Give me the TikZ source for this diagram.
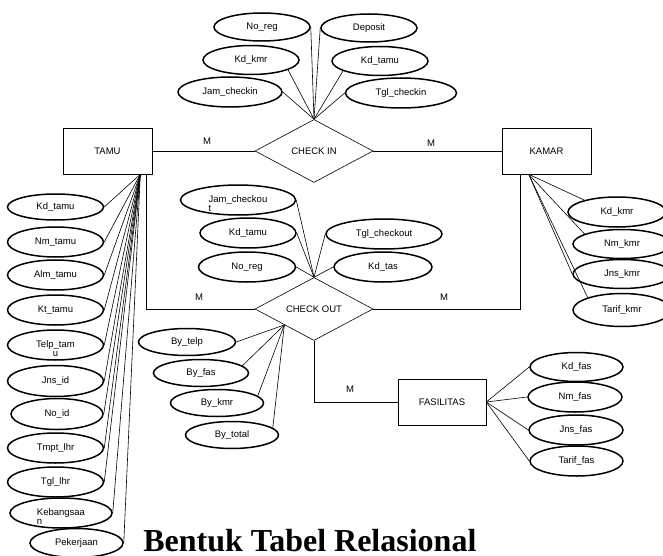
\documentclass[tikz,border=0pt]{standalone}
\usepackage{fontspec}
\newfontfamily\erfont{Liberation Sans}
\newfontfamily\headfont{Liberation Serif}
\usepackage{tikz}
\usetikzlibrary{shapes.geometric}

\newcommand{\wraptext}[3][l]{\smash{\raisebox{-2pt}{\begin{tabular}[t]{@{}#1@{}}#2\\[-0.5pt]#3\end{tabular}}}}

\tikzset{
  entity/.style={draw, line width=0.6pt, minimum width=89pt, minimum height=46pt, inner sep=0pt, font=\erfont\fontsize{9.5}{10}\selectfont},
  relation/.style={diamond, draw, line width=0.6pt, minimum width=118pt, minimum height=63pt, inner sep=0pt, font=\erfont\fontsize{9.5}{10}\selectfont},
  attr/.style={ellipse, draw, line width=1.5pt, minimum width=96pt, minimum height=28pt, inner sep=0pt, font=\erfont\fontsize{9.5}{10}\selectfont},
  card/.style={font=\erfont\fontsize{9.5}{10}\selectfont}
}

\begin{document}
\begin{tikzpicture}[x=1pt, y=-1pt, line width=0.6pt]
\useasboundingbox (0,0) rectangle (663,556);

\node (tamu) at (107.5,151) [entity] {TAMU};
\node (kamar) at (546.5,151) [entity] {KAMAR};
\node (fasilitas) at (442,402) [entity, minimum width=88pt] {FASILITAS};
\node (checkin) at (314,151) [relation] {CHECK IN};
\node (checkout) at (314,309) [relation] {CHECK OUT};

\draw (tamu) -- (checkin);
\draw (checkin) -- (kamar);
\draw ([xshift=-6pt]tamu.south east) |- (checkout.west);
\draw ([xshift=19pt]kamar.south west) |- (checkout.east);
\draw (checkout.south) |- (fasilitas.west);

\node (m-tamuci) at (207,141) [card] {M};
\node (m-cikamar) at (431,143) [card] {M};
\node (m-tamuco) at (199,297) [card] {M};
\node (m-cokamar) at (444,297) [card] {M};
\node (m-cofas) at (350,389) [card] {M};

\node (ci-noreg) at (262,27) [attr] {No\_reg};
\node (ci-deposit) at (369,28) [attr] {Deposit};
\node (ci-kdkmr) at (251,60) [attr, minimum height=29pt] {Kd\_kmr};
\node (ci-kdtamu) at (380,61) [attr, minimum height=29pt] {Kd\_tamu};
\node (ci-jam) at (230,92) [attr, minimum width=104pt, minimum height=30pt] {Jam\_checkin};
\node (ci-tgl) at (401,93) [attr, minimum width=111pt, minimum height=30pt] {Tgl\_checkin};

\draw (checkin.north) -- (ci-noreg.east);
\draw (checkin.north) -- (ci-deposit.west);
\draw (checkin.north) -- (ci-kdkmr.-15);
\draw (checkin.north) -- (ci-kdtamu.195);
\draw (checkin.north) -- (ci-jam.east);
\draw (checkin.north) -- (ci-tgl.west);

\coordinate (tamufan) at ([xshift=-12pt]tamu.south east);
\node (tamu-kd) at (55.5,207) [attr, minimum height=26pt] {Kd\_tamu};
\node (tamu-nm) at (55.5,242) [attr, minimum height=30pt] {Nm\_tamu};
\node (tamu-alm) at (55.5,275) [attr, minimum height=30pt] {Alm\_tamu};
\node (tamu-kt) at (55.5,310) [attr, minimum height=30pt] {Kt\_tamu};
\node (tamu-telp) at (55.5,345) [attr, minimum height=30pt] {\wraptext[c]{Telp\_tam}{u}};
\node (tamu-jns) at (55.5,381) [attr, minimum height=31pt] {Jns\_id};
\node (tamu-noid) at (57,414) [attr, minimum width=92pt, minimum height=31pt] {No\_id};
\node (tamu-tmpt) at (55.5,448) [attr, minimum height=30pt] {Tmpt\_lhr};
\node (tamu-tgl) at (55.5,482) [attr, minimum height=30pt] {Tgl\_lhr};
\node (tamu-bangsa) at (61,513) [attr, minimum width=102pt, minimum height=30pt] {\wraptext{Kebangsaa}{n}};
\node (tamu-kerja) at (76.5,543) [attr, minimum width=93pt, minimum height=29pt] {Pekerjaan};

\draw (tamufan) -- (tamu-kd.east);
\draw (tamufan) -- (tamu-nm.east);
\draw (tamufan) -- (tamu-alm.east);
\draw (tamufan) -- (tamu-kt.east);
\draw (tamufan) -- (tamu-telp.east);
\draw (tamufan) -- (tamu-jns.east);
\draw (tamufan) -- (tamu-noid.east);
\draw (tamufan) -- (tamu-tmpt.east);
\draw (tamufan) -- (tamu-tgl.east);
\draw (tamufan) -- (tamu-bangsa.east);
\draw (tamufan) -- (tamu-kerja.east);

\node (co-jam) at (238,200) [attr, minimum width=115pt, minimum height=30pt] {\wraptext{Jam\_checkou}{t}};
\node (co-kdtamu) at (248,233) [attr, minimum height=30pt] {Kd\_tamu};
\node (co-noreg) at (247,267) [attr, minimum width=97pt, minimum height=30pt] {No\_reg};
\node (co-tgl) at (384,234) [attr, minimum width=116pt, minimum height=30pt] {Tgl\_checkout};
\node (co-kdtas) at (383,267) [attr, minimum width=98pt, minimum height=30pt] {Kd\_tas};

\draw (checkout.north) -- (co-jam.east);
\draw (checkout.north) -- (co-kdtamu.east);
\draw (checkout.north) -- (co-noreg.east);
\draw (checkout.north) -- (co-tgl.west);
\draw (checkout.north) -- (co-kdtas.west);

\coordinate (byfan) at (checkout.south west);
\node (by-telp) at (187,342) [attr, minimum width=97pt, minimum height=27pt] {By\_telp};
\node (by-fas) at (201,373) [attr, minimum width=95pt, minimum height=27pt] {By\_fas};
\node (by-kmr) at (217,403) [attr, minimum width=93pt, minimum height=27pt] {By\_kmr};
\node (by-total) at (232,435) [attr, minimum width=93pt, minimum height=27pt] {By\_total};

\draw (byfan) -- (by-telp.east);
\draw (byfan) -- (by-fas.10);
\draw (byfan) -- (by-kmr.10);
\draw (byfan) -- (by-total.10);

\coordinate (kamarfan) at ([xshift=27pt]kamar.south west);
\node (kamar-kd) at (617,212) [attr, minimum width=98pt, minimum height=30pt] {Kd\_kmr};
\node (kamar-nm) at (622,244) [attr, minimum width=98pt, minimum height=29pt] {Nm\_kmr};
\node (kamar-jns) at (622,274) [attr, minimum width=98pt, minimum height=29pt] {Jns\_kmr};
\node (kamar-tarif) at (622,310) [attr, minimum width=98pt, minimum height=33pt] {Tarif\_kmr};

\draw (kamarfan) -- (kamar-kd.160);
\draw (kamarfan) -- (kamar-nm.165);
\draw (kamarfan) -- (kamar-jns.west);
\draw (kamarfan) -- (kamar-tarif.160);

\node (fas-kd) at (576.5,367) [attr, minimum width=93pt, minimum height=29pt] {Kd\_fas};
\node (fas-nm) at (575,397) [attr, minimum width=94pt, minimum height=30pt] {Nm\_fas};
\node (fas-jns) at (576,430) [attr, minimum width=94pt, minimum height=30pt] {Jns\_fas};
\node (fas-tarif) at (576.5,461) [attr, minimum width=93pt, minimum height=30pt] {Tarif\_fas};

\draw (fasilitas.east) -- (fas-kd.west);
\draw (fasilitas.east) -- (fas-nm.west);
\draw (fasilitas.east) -- (fas-jns.west);
\draw (fasilitas.east) -- (fas-tarif.west);

\node (judul) at (143,551) [anchor=base west, inner sep=0pt, font=\headfont\bfseries\fontsize{32}{36}\selectfont] {Bentuk Tabel Relasional};
\end{tikzpicture}
\end{document}
